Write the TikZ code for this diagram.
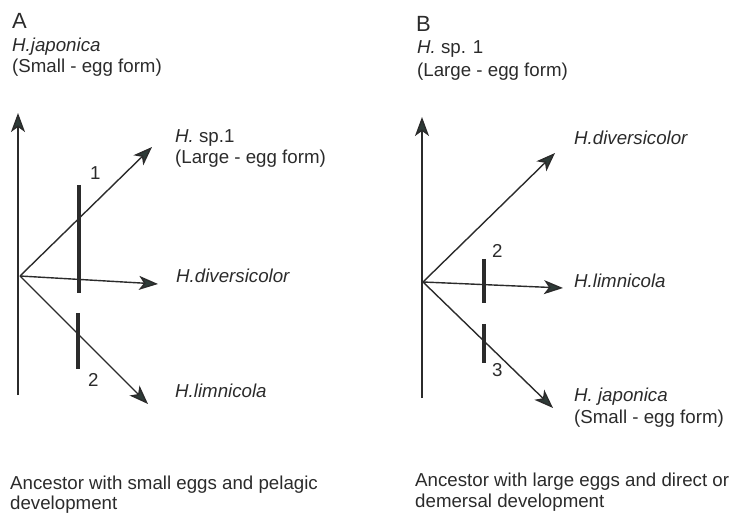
\documentclass[tikz,border=0pt]{standalone}
\usepackage{fontspec}
\setmainfont{Liberation Sans}
\usetikzlibrary{arrows.meta}
\definecolor{ink}{HTML}{2B2B2B}
\definecolor{tipc}{HTML}{2E3B38}
\tikzset{
  branch/.style={draw=ink, line width=1.4pt, -{Stealth[length=19pt,width=14pt,inset=5pt,fill=tipc]}},
  bar/.style={draw=ink, line width=3.4pt},
  lbl/.style={anchor=base west, inner sep=0pt, font=\fontsize{18.7}{21}\selectfont, text=ink},
  sp/.style={lbl, font=\fontsize{18.7}{21}\selectfont\itshape},
  head/.style={anchor=base west, inner sep=0pt, font=\fontsize{22}{24}\selectfont, text=ink},
}
\begin{document}
\begin{tikzpicture}[x=1pt,y=-1pt]
\useasboundingbox (0,0) rectangle (733,518);
% ---------- Panel A ----------
\node[head] (hA) at (12,29) {A};
\node[sp] (jA) at (12,52) {H.japonica};
\node[lbl] (jAf) at (12,73) {(Small - egg form)};
\coordinate (Abot) at (18,395);
\coordinate (Atop) at (18,113);
\coordinate (Ao) at (20,276);
\coordinate (A1) at (152,147);
\coordinate (A2) at (158,284);
\coordinate (A3) at (148,404);
\draw[branch] (Abot) -- (Atop);
\draw[branch] (Ao) -- (A1);
\draw[branch] (Ao) -- (A2);
\draw[branch] (Ao) -- (A3);
\coordinate (b1t) at (79,185);
\coordinate (b1b) at (79,293);
\coordinate (b2t) at (78,313);
\coordinate (b2b) at (78,369);
\draw[bar] (b1t) -- (b1b);
\draw[bar] (b2t) -- (b2b);
\node[lbl] (n1) at (90,180) {1};
\node[lbl] (n2) at (88,386) {2};
\node[lbl] (spA) at (175,143) {\itshape H.\upshape\ sp.1};
\node[lbl] (spAf) at (175,164) {(Large - egg form)};
\node[sp] (dA) at (176,283) {H.diversicolor};
\node[sp] (lA) at (175,397) {H.limnicola};
\node[lbl] (cA1) at (10,489) {Ancestor with small eggs and pelagic};
\node[lbl] (cA2) at (10,509) {development};
% ---------- Panel B ----------
\node[head] (hB) at (416,32) {B};
\node[lbl] (spB) at (417,54) {\itshape H.\upshape\ sp. 1};
\node[lbl] (spBf) at (417,77) {(Large - egg form)};
\coordinate (Bbot) at (422,398);
\coordinate (Btop) at (422,117);
\coordinate (Bo) at (423,282);
\coordinate (B1) at (555,153);
\coordinate (B2) at (563,288);
\coordinate (B3) at (553,408);
\draw[branch] (Bbot) -- (Btop);
\draw[branch] (Bo) -- (B1);
\draw[branch] (Bo) -- (B2);
\draw[branch] (Bo) -- (B3);
\coordinate (c2t) at (484,259);
\coordinate (c2b) at (484,303);
\coordinate (c3t) at (484,324);
\coordinate (c3b) at (484,363);
\draw[bar] (c2t) -- (c2b);
\draw[bar] (c3t) -- (c3b);
\node[lbl] (m2) at (492,258) {2};
\node[lbl] (m3) at (492,376) {3};
\node[sp] (dB) at (574,145) {H.diversicolor};
\node[sp] (lB) at (574,288) {H.limnicola};
\node[lbl] (jB) at (574,401) {\itshape H. japonica};
\node[lbl] (jBf) at (574,423) {(Small - egg form)};
\node[lbl] (cB1) at (415,486) {Ancestor with large eggs and direct or};
\node[lbl] (cB2) at (415,507) {demersal development};
\end{tikzpicture}
\end{document}
